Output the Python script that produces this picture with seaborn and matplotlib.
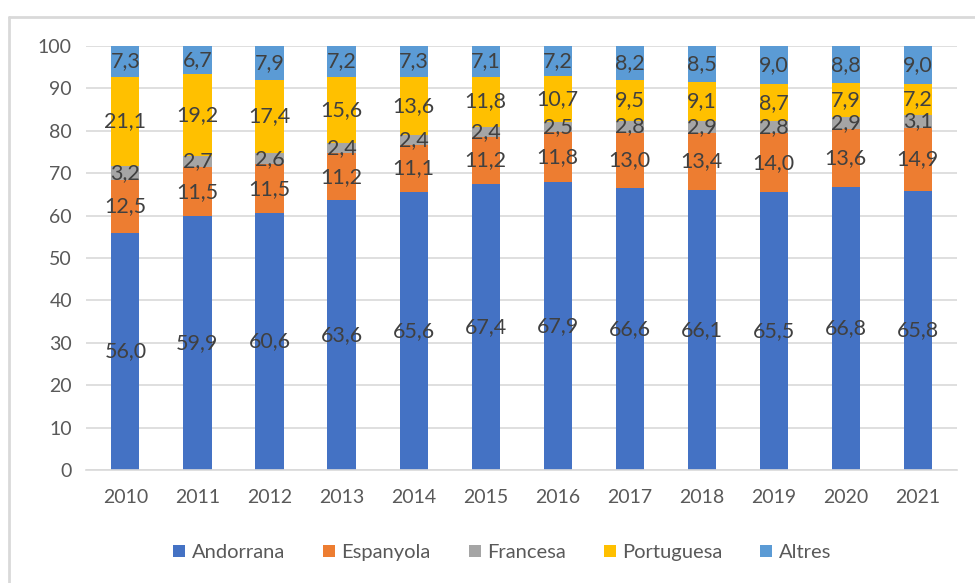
import numpy as np
import pandas as pd
import matplotlib
matplotlib.use("Agg")
import matplotlib.pyplot as plt
import seaborn as sns
from matplotlib.patches import Patch
from matplotlib.lines import Line2D

sns.set_theme(style="white")
plt.rcParams['font.family'] = ['Lato', 'DejaVu Sans']

# Data (percent of population by nationality)
years = ["2010", "2011", "2012", "2013", "2014", "2015",
         "2016", "2017", "2018", "2019", "2020", "2021"]
andorrana = [56.0, 59.9, 60.6, 63.6, 65.6, 67.4, 67.9, 66.6, 66.1, 65.5, 66.8, 65.8]
espanyola = [12.5, 11.5, 11.5, 11.2, 11.1, 11.2, 11.8, 13.0, 13.4, 14.0, 13.6, 14.9]
francesa = [3.2, 2.7, 2.6, 2.4, 2.4, 2.4, 2.5, 2.8, 2.9, 2.8, 2.9, 3.1]
portuguesa = [21.1, 19.2, 17.4, 15.6, 13.6, 11.8, 10.7, 9.5, 9.1, 8.7, 7.9, 7.2]
altres = [7.3, 6.7, 7.9, 7.2, 7.3, 7.1, 7.2, 8.2, 8.5, 9.0, 8.8, 9.0]

series = ["Andorrana", "Espanyola", "Francesa", "Portuguesa", "Altres"]
colors = ["#4472C4", "#ED7D31", "#A5A5A5", "#FFC000", "#5B9BD5"]

df = pd.DataFrame({"year": years, "Andorrana": andorrana, "Espanyola": espanyola,
                   "Francesa": francesa, "Portuguesa": portuguesa, "Altres": altres})
cum = df[series].cumsum(axis=1)
# Excel-style stacks cap at 100
cum = cum.clip(upper=100)

fig = plt.figure(figsize=(9.75, 5.83), dpi=100)
ax = fig.add_axes([0.088, 0.194, 0.894, 0.727])

# Draw cumulative totals from top series down so lower stacks cover upper ones
for name, col in reversed(list(zip(series, colors))):
    sns.barplot(x=df["year"], y=cum[name], color=col, width=0.39,
                linewidth=0, saturation=1, ax=ax, zorder=2)

# Data labels at segment centres
bottoms = cum.shift(1, axis=1).fillna(0)
for name in series:
    for i, (b, top) in enumerate(zip(bottoms[name], cum[name])):
        val = df[name][i]
        ax.text(i, (b + top) / 2, f"{val:.1f}".replace(".", ","),
                ha="center", va="center", fontsize=15.5, color="#404040", zorder=3)

ax.set_ylim(0, 100)
ax.set_yticks(range(0, 101, 10))
ax.set_xlim(-0.55, len(years) - 0.45)
ax.yaxis.grid(True, color="#D9D9D9", linewidth=1.2, zorder=0)
ax.set_axisbelow(True)
for s in ["top", "right", "left"]:
    ax.spines[s].set_visible(False)
ax.spines["bottom"].set_color("#D9D9D9")
ax.spines["bottom"].set_linewidth(1.2)
ax.tick_params(axis="both", labelsize=14, colors="#595959", length=0)
ax.tick_params(axis="x", pad=14)
ax.tick_params(axis="y", pad=10)
ax.set_xlabel("")
ax.set_ylabel("")

handles = [Patch(facecolor=c, edgecolor="none") for c in colors]
fig.legend(handles, series, loc="center", bbox_to_anchor=(0.515, 0.052), ncol=5,
           frameon=False, fontsize=14.5, handlelength=0.6, handleheight=0.6,
           handletextpad=0.3, columnspacing=1.9, labelcolor="#595959")

# Light chart border (only top and left edges are inside the crop)
fig.add_artist(Line2D([0.009, 0.009], [0.0, 0.971], transform=fig.transFigure,
                      color="#D9D9D9", linewidth=2))
fig.add_artist(Line2D([0.009, 1.0], [0.971, 0.971], transform=fig.transFigure,
                      color="#D9D9D9", linewidth=2))

fig.savefig("out.png", dpi=100)
